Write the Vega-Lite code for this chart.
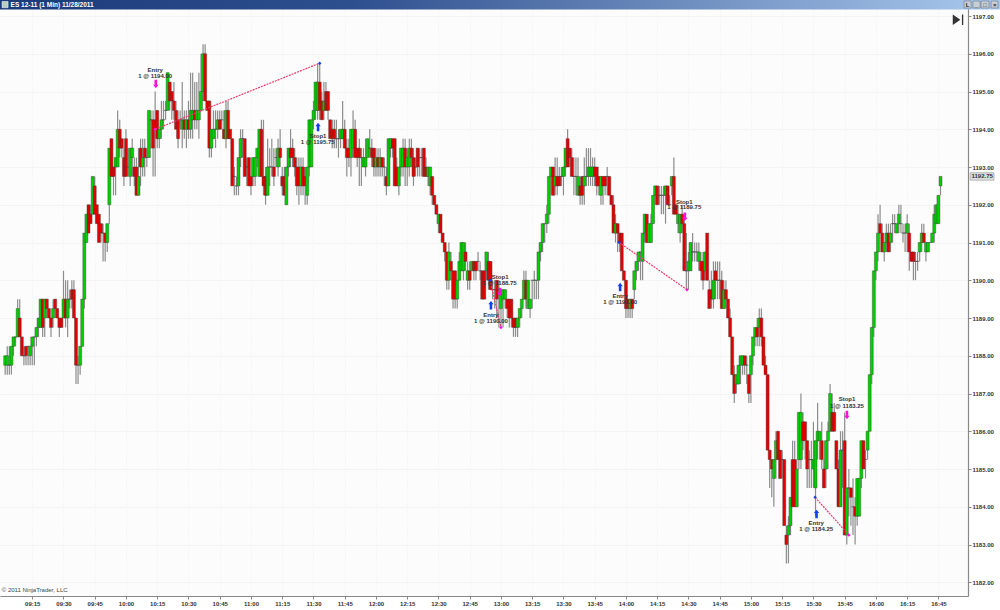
{"$schema":"https://vega.github.io/schema/vega-lite/v6.json","width":968,"height":596,"padding":0,"background":"#ffffff","view":{"fill":"#fcfcfc","stroke":null},
"datasets":{"bars":[
{"n":2,"o":1187.75,"h":1188,"l":1187.5,"c":1188},{"n":3,"o":1187.75,"h":1188.25,"l":1187.5,"c":1188},{"n":4,"o":1187.75,"h":1188.25,"l":1187.5,"c":1187.75},{"n":5,"o":1187.75,"h":1188.25,"l":1187.5,"c":1188.25},{"n":6,"o":1188.25,"h":1188.5,"l":1188,"c":1188.5},{"n":7,"o":1188.5,"h":1188.5,"l":1188.25,"c":1188.5},{"n":8,"o":1188.5,"h":1189.5,"l":1188.5,"c":1189.25},{"n":9,"o":1189,"h":1189.5,"l":1188.5,"c":1188.5},{"n":10,"o":1188.5,"h":1188.5,"l":1188,"c":1188},{"n":11,"o":1188,"h":1188.25,"l":1187.75,"c":1188},{"n":12,"o":1188.25,"h":1188.25,"l":1187.75,"c":1188},{"n":13,"o":1188.25,"h":1188.25,"l":1187.75,"c":1188.25},{"n":14,"o":1188,"h":1188.25,"l":1187.75,"c":1188.25},{"n":15,"o":1188.25,"h":1188.5,"l":1187.75,"c":1188.5},{"n":16,"o":1188.5,"h":1188.5,"l":1187.75,"c":1188.5},{"n":17,"o":1188.5,"h":1188.75,"l":1188.25,"c":1188.75},{"n":18,"o":1188.75,"h":1189,"l":1188.5,"c":1189},{"n":19,"o":1188.75,"h":1189.5,"l":1188.75,"c":1189.5},{"n":20,"o":1189.5,"h":1189.5,"l":1188.5,"c":1188.75},{"n":21,"o":1189,"h":1189.5,"l":1188.5,"c":1189.5},{"n":22,"o":1189.5,"h":1189.5,"l":1189,"c":1189.25},{"n":23,"o":1189.25,"h":1189.25,"l":1189,"c":1189},{"n":24,"o":1189,"h":1189,"l":1188.5,"c":1188.75},{"n":25,"o":1189,"h":1189.5,"l":1188.75,"c":1189.25},{"n":26,"o":1189.5,"h":1189.5,"l":1189,"c":1189.25},{"n":27,"o":1189.25,"h":1189.25,"l":1189,"c":1189},{"n":28,"o":1189,"h":1189,"l":1188.5,"c":1188.75},{"n":29,"o":1189,"h":1189,"l":1188.75,"c":1188.75},{"n":30,"o":1189,"h":1190.25,"l":1189,"c":1189.5},{"n":31,"o":1189.5,"h":1190,"l":1188.75,"c":1189},{"n":32,"o":1189,"h":1190,"l":1188.5,"c":1189.5},{"n":33,"o":1189.5,"h":1189.75,"l":1189.25,"c":1189.5},{"n":34,"o":1189.75,"h":1190,"l":1189.25,"c":1189.5},{"n":35,"o":1189.75,"h":1190,"l":1189,"c":1189},{"n":36,"o":1189,"h":1189,"l":1187.25,"c":1187.75},{"n":37,"o":1187.75,"h":1188,"l":1187.25,"c":1187.75},{"n":38,"o":1187.75,"h":1188.25,"l":1187.5,"c":1188.25},{"n":39,"o":1188.25,"h":1189.5,"l":1188.25,"c":1189.5},{"n":40,"o":1189.5,"h":1191.25,"l":1189.25,"c":1191.25},{"n":41,"o":1191,"h":1191.75,"l":1191,"c":1191.75},{"n":42,"o":1192,"h":1192,"l":1191.25,"c":1191.25},{"n":43,"o":1191.75,"h":1192,"l":1191.5,"c":1191.5},{"n":44,"o":1191.75,"h":1192.75,"l":1191.75,"c":1192.75},{"n":45,"o":1192.5,"h":1192.75,"l":1191.75,"c":1191.75},{"n":46,"o":1192,"h":1192,"l":1191.5,"c":1191.5},{"n":47,"o":1191.75,"h":1191.75,"l":1191,"c":1191},{"n":48,"o":1191.5,"h":1191.5,"l":1191,"c":1191.25},{"n":49,"o":1191.25,"h":1191.5,"l":1190.5,"c":1191.25},{"n":50,"o":1191.25,"h":1191.25,"l":1190.5,"c":1191},{"n":51,"o":1191,"h":1191.5,"l":1190.75,"c":1191.5},{"n":52,"o":1192,"h":1193.5,"l":1191.5,"c":1193.5},
{"n":53,"o":1193.75,"h":1193.75,"l":1192.75,"c":1192.75},{"n":54,"o":1193,"h":1193,"l":1192.25,"c":1192.75},{"n":55,"o":1193,"h":1193.25,"l":1192.25,"c":1193.25},{"n":56,"o":1193,"h":1194.5,"l":1193,"c":1194},{"n":57,"o":1194,"h":1194.25,"l":1193.25,"c":1193.5},{"n":58,"o":1193.75,"h":1193.75,"l":1193.25,"c":1193.5},{"n":59,"o":1193.25,"h":1193.5,"l":1192.5,"c":1192.75},{"n":60,"o":1193.75,"h":1194,"l":1192.75,"c":1192.75},{"n":61,"o":1193,"h":1193.5,"l":1192.75,"c":1193},{"n":62,"o":1192.75,"h":1193.5,"l":1192.5,"c":1193.5},{"n":63,"o":1193.25,"h":1193.75,"l":1192.75,"c":1193.5},{"n":64,"o":1193,"h":1193.25,"l":1192.5,"c":1192.75},{"n":65,"o":1193,"h":1193.25,"l":1192.25,"c":1192.25},{"n":66,"o":1192.25,"h":1193.5,"l":1192.25,"c":1192.75},{"n":67,"o":1193.5,"h":1193.75,"l":1192.5,"c":1193},{"n":68,"o":1193,"h":1193.75,"l":1192.75,"c":1193.25},{"n":69,"o":1193.5,"h":1193.75,"l":1192.75,"c":1193.25},{"n":70,"o":1193.25,"h":1193.5,"l":1193,"c":1193.25},{"n":71,"o":1193.25,"h":1194.5,"l":1193.25,"c":1194.5},{"n":72,"o":1194.25,"h":1194.5,"l":1193.5,"c":1194.25},{"n":73,"o":1194.25,"h":1194.5,"l":1192.75,"c":1193.5},{"n":74,"o":1194.25,"h":1195,"l":1192.75,"c":1194},{"n":75,"o":1194.5,"h":1194.5,"l":1193.5,"c":1193.75},{"n":76,"o":1193.75,"h":1194,"l":1193.5,"c":1194},{"n":77,"o":1194,"h":1194.75,"l":1193.75,"c":1194.25},{"n":78,"o":1194.25,"h":1194.75,"l":1194,"c":1194.25},{"n":79,"o":1194.5,"h":1194.75,"l":1194.25,"c":1194.5},{"n":80,"o":1194.5,"h":1195.5,"l":1194.5,"c":1195.5},{"n":81,"o":1195.25,"h":1195.25,"l":1194.5,"c":1194.75},{"n":82,"o":1195,"h":1195,"l":1194.25,"c":1194.75},{"n":83,"o":1194.75,"h":1195.25,"l":1194.25,"c":1194.5},{"n":84,"o":1194.5,"h":1194.75,"l":1194,"c":1194},{"n":85,"o":1194.25,"h":1194.5,"l":1193.5,"c":1193.75},{"n":86,"o":1194.25,"h":1194.5,"l":1194,"c":1194.25},{"n":87,"o":1194,"h":1195.25,"l":1193.5,"c":1194.25},{"n":88,"o":1194.25,"h":1194.5,"l":1193.75,"c":1194},{"n":89,"o":1194,"h":1194.5,"l":1193.5,"c":1194.25},{"n":90,"o":1194.25,"h":1194.75,"l":1193.75,"c":1194},{"n":91,"o":1194,"h":1195.5,"l":1193.75,"c":1194.5},{"n":92,"o":1194.25,"h":1195.5,"l":1193.75,"c":1194.5},{"n":93,"o":1194.5,"h":1195.25,"l":1194,"c":1194.25},{"n":94,"o":1194.25,"h":1195.25,"l":1194,"c":1194.5},{"n":95,"o":1194.25,"h":1195.5,"l":1193.75,"c":1194.5},{"n":96,"o":1194.5,"h":1196,"l":1194.5,"c":1195},{"n":97,"o":1195,"h":1196.25,"l":1194.75,"c":1196},{"n":98,"o":1196,"h":1196.25,"l":1194.75,"c":1194.75},{"n":99,"o":1194.75,"h":1194.75,"l":1194.5,"c":1194.5},{"n":100,"o":1194.75,"h":1194.75,"l":1193.25,"c":1193.5},{"n":101,"o":1193.5,"h":1194,"l":1193.25,"c":1194},{"n":102,"o":1193.75,"h":1194.5,"l":1193.75,"c":1194},{"n":103,"o":1194,"h":1194.5,"l":1193.5,"c":1194},{"n":104,"o":1194,"h":1194.5,"l":1193.75,"c":1194.25},{"n":105,"o":1194.25,"h":1194.5,"l":1194,"c":1194},{"n":106,"o":1194.25,"h":1194.5,"l":1194,"c":1194.25},{"n":107,"o":1194,"h":1194.5,"l":1193.75,"c":1193.75},{"n":108,"o":1193.75,"h":1194.75,"l":1193.5,"c":1194.5},{"n":109,"o":1194.5,"h":1194.75,"l":1193.75,"c":1193.75},{"n":110,"o":1194,"h":1194,"l":1193.75,"c":1193.75},{"n":111,"o":1193.75,"h":1193.75,"l":1192.5,"c":1192.5},{"n":112,"o":1192.75,"h":1193,"l":1192.25,"c":1192.75},{"n":113,"o":1192.5,"h":1192.75,"l":1192.25,"c":1192.5},{"n":114,"o":1192.5,"h":1193.25,"l":1192.25,"c":1193.25},{"n":115,"o":1193.25,"h":1194,"l":1193,"c":1193.75},{"n":116,"o":1193.75,"h":1194,"l":1193.25,"c":1193.75},{"n":117,"o":1193.75,"h":1193.75,"l":1192.75,"c":1192.75},{"n":118,"o":1193,"h":1193.25,"l":1192.5,"c":1193},{"n":119,"o":1193.25,"h":1193.25,"l":1192.5,"c":1192.5},{"n":120,"o":1192.75,"h":1192.75,"l":1192.25,"c":1192.5},{"n":121,"o":1192.75,"h":1193.25,"l":1192.5,"c":1193.25},{"n":122,"o":1192.75,"h":1193.25,"l":1192.5,"c":1193.25},{"n":123,"o":1193.25,"h":1193.5,"l":1193,"c":1193.5},{"n":124,"o":1192.75,"h":1194,"l":1192.75,"c":1194},{"n":125,"o":1194,"h":1194.25,"l":1192.75,"c":1192.75},
{"n":126,"o":1192.75,"h":1194.25,"l":1192.25,"c":1192.5},{"n":127,"o":1192.75,"h":1193,"l":1192,"c":1192.25},{"n":128,"o":1192.25,"h":1193.75,"l":1192.25,"c":1193},{"n":129,"o":1193,"h":1193.5,"l":1192.5,"c":1193},{"n":130,"o":1193,"h":1193.75,"l":1192.75,"c":1193},{"n":131,"o":1193,"h":1193.5,"l":1192.5,"c":1192.75},{"n":132,"o":1193.25,"h":1193.5,"l":1193,"c":1193.25},{"n":133,"o":1193,"h":1193.75,"l":1192.75,"c":1193.5},{"n":134,"o":1193.5,"h":1194,"l":1193,"c":1193.25},{"n":135,"o":1192.75,"h":1193,"l":1192.25,"c":1192.5},{"n":136,"o":1192.75,"h":1193,"l":1192.25,"c":1192.25},{"n":137,"o":1192,"h":1193,"l":1192,"c":1193},{"n":138,"o":1193,"h":1193.5,"l":1192.75,"c":1193.5},{"n":139,"o":1193.5,"h":1194,"l":1193,"c":1193.25},{"n":140,"o":1193.5,"h":1193.75,"l":1193,"c":1193.25},{"n":141,"o":1193.25,"h":1193.5,"l":1192.75,"c":1193},{"n":142,"o":1193,"h":1193.25,"l":1192.25,"c":1192.5},{"n":143,"o":1193,"h":1193.25,"l":1192,"c":1192.5},{"n":144,"o":1192.5,"h":1193.25,"l":1192.25,"c":1193},{"n":145,"o":1193,"h":1193.25,"l":1192.25,"c":1192.5},{"n":146,"o":1192.75,"h":1193,"l":1192,"c":1192.5},{"n":147,"o":1192.25,"h":1193,"l":1192,"c":1193},{"n":148,"o":1193,"h":1194.25,"l":1192.75,"c":1194.25},{"n":149,"o":1193,"h":1194.25,"l":1193,"c":1194.25},{"n":150,"o":1194.25,"h":1194.75,"l":1194,"c":1194.5},{"n":151,"o":1194.5,"h":1195.25,"l":1194.25,"c":1195.25},{"n":152,"o":1194.5,"h":1195.75,"l":1194.25,"c":1195.25},{"n":153,"o":1195.25,"h":1195.75,"l":1194.25,"c":1194.5},{"n":154,"o":1194.75,"h":1195,"l":1194.25,"c":1194.25},{"n":155,"o":1194.5,"h":1195.25,"l":1194.25,"c":1194.75},{"n":156,"o":1195,"h":1195.25,"l":1194.5,"c":1194.5},{"n":157,"o":1195,"h":1195,"l":1194.25,"c":1194.5},{"n":158,"o":1194.25,"h":1194.25,"l":1193.75,"c":1193.75},{"n":159,"o":1194,"h":1194.25,"l":1193.5,"c":1193.75},{"n":160,"o":1194,"h":1194.25,"l":1193.5,"c":1193.75},{"n":161,"o":1193.75,"h":1194.25,"l":1193.5,"c":1193.75},{"n":162,"o":1193.75,"h":1194,"l":1193.25,"c":1193.75},{"n":163,"o":1193.75,"h":1194,"l":1193.5,"c":1194},{"n":164,"o":1193.75,"h":1194.75,"l":1193.75,"c":1194},{"n":165,"o":1194,"h":1194.25,"l":1193.5,"c":1193.5},{"n":166,"o":1193.5,"h":1193.75,"l":1192.75,"c":1193.25},{"n":167,"o":1193.5,"h":1193.75,"l":1193,"c":1193.25},{"n":168,"o":1193.25,"h":1194,"l":1192.75,"c":1194},{"n":169,"o":1193.5,"h":1194.5,"l":1193.25,"c":1194},{"n":170,"o":1194,"h":1194.25,"l":1193.25,"c":1193.25},{"n":171,"o":1193.5,"h":1193.5,"l":1193,"c":1193.25},{"n":172,"o":1193.5,"h":1193.75,"l":1192.5,"c":1193.25},{"n":173,"o":1193.25,"h":1193.5,"l":1192.5,"c":1193.25},{"n":174,"o":1193,"h":1193.5,"l":1193,"c":1193.25},{"n":175,"o":1193,"h":1193.75,"l":1192.75,"c":1193.25},{"n":176,"o":1193.25,"h":1193.75,"l":1193.25,"c":1193.75},{"n":177,"o":1193.5,"h":1194,"l":1193.25,"c":1193.5},{"n":178,"o":1193.5,"h":1193.75,"l":1193,"c":1193.25},{"n":179,"o":1193.5,"h":1193.5,"l":1192.75,"c":1193},{"n":180,"o":1193,"h":1193.5,"l":1192.75,"c":1193.25},{"n":181,"o":1193.25,"h":1193.5,"l":1192.75,"c":1193},{"n":182,"o":1193,"h":1193.5,"l":1192.75,"c":1193.25},{"n":183,"o":1193.25,"h":1193.25,"l":1192.75,"c":1193},{"n":184,"o":1193,"h":1193.25,"l":1192.5,"c":1193},{"n":185,"o":1192.75,"h":1193,"l":1192.25,"c":1192.5},{"n":186,"o":1192.5,"h":1193.75,"l":1192.5,"c":1193.75},{"n":187,"o":1193.5,"h":1193.75,"l":1193.25,"c":1193.75},{"n":188,"o":1193.75,"h":1193.75,"l":1193.25,"c":1193.5},{"n":189,"o":1193.75,"h":1193.75,"l":1192.5,"c":1192.5},{"n":190,"o":1193,"h":1193.25,"l":1192.5,"c":1192.5},{"n":191,"o":1192.5,"h":1193,"l":1192.25,"c":1193},{"n":192,"o":1193,"h":1193.5,"l":1192.75,"c":1193.5},{"n":193,"o":1193,"h":1193.75,"l":1192.75,"c":1193.5},{"n":194,"o":1193.5,"h":1193.75,"l":1192.5,"c":1193},{"n":195,"o":1193,"h":1193.5,"l":1192.5,"c":1193.25},{"n":196,"o":1193,"h":1193.75,"l":1192.75,"c":1193.5},{"n":197,"o":1193.5,"h":1193.75,"l":1193,"c":1193.25},{"n":198,"o":1193.25,"h":1193.5,"l":1192.5,"c":1192.75},{"n":199,"o":1193,"h":1193.25,"l":1192.75,"c":1193},{"n":200,"o":1193.5,"h":1193.5,"l":1192.75,"c":1193},{"n":201,"o":1193.25,"h":1193.5,"l":1192.75,"c":1193.25},{"n":202,"o":1193.25,"h":1193.5,"l":1192.75,"c":1193.25},{"n":203,"o":1193.5,"h":1193.5,"l":1192.75,"c":1192.75},{"n":204,"o":1193,"h":1193.25,"l":1192.75,"c":1192.75},{"n":205,"o":1192.75,"h":1193,"l":1192.5,"c":1193},{"n":206,"o":1192.5,"h":1193,"l":1192.25,"c":1193},{"n":207,"o":1192.75,"h":1192.75,"l":1192,"c":1192.25},{"n":208,"o":1192.25,"h":1192.25,"l":1192,"c":1192},{"n":209,"o":1192,"h":1192,"l":1191.75,"c":1191.75},{"n":210,"o":1191.5,"h":1191.75,"l":1191.25,"c":1191.75},{"n":211,"o":1191.75,"h":1191.75,"l":1191.25,"c":1191.25},{"n":212,"o":1191.25,"h":1191.25,"l":1191,"c":1191},
{"n":213,"o":1191,"h":1191,"l":1190.5,"c":1190.75},{"n":214,"o":1190.75,"h":1190.75,"l":1189.75,"c":1190},{"n":215,"o":1190,"h":1191,"l":1189.75,"c":1190.75},{"n":216,"o":1190.5,"h":1190.75,"l":1190,"c":1190.25},{"n":217,"o":1190.25,"h":1190.25,"l":1189.25,"c":1189.5},{"n":218,"o":1190.25,"h":1190.25,"l":1189.25,"c":1189.5},{"n":219,"o":1189.5,"h":1190,"l":1189.25,"c":1190},{"n":220,"o":1190,"h":1190.75,"l":1190,"c":1190.5},{"n":221,"o":1190.25,"h":1191,"l":1190.25,"c":1191},{"n":222,"o":1190.25,"h":1191,"l":1190,"c":1191},{"n":223,"o":1190.75,"h":1191,"l":1190.25,"c":1190.5},{"n":224,"o":1190,"h":1190.5,"l":1189.75,"c":1190.25},{"n":225,"o":1190.25,"h":1190.5,"l":1189.75,"c":1190},{"n":226,"o":1190.25,"h":1190.5,"l":1190.25,"c":1190.5},{"n":227,"o":1190.5,"h":1190.5,"l":1190,"c":1190.25},{"n":228,"o":1190.5,"h":1190.5,"l":1190,"c":1190.25},{"n":229,"o":1190.5,"h":1190.75,"l":1190.25,"c":1190.5},{"n":230,"o":1190.25,"h":1190.5,"l":1190,"c":1190.25},{"n":231,"o":1190.25,"h":1190.25,"l":1189.5,"c":1189.5},{"n":232,"o":1190.25,"h":1190.25,"l":1189.5,"c":1189.5},{"n":233,"o":1190.25,"h":1190.75,"l":1190,"c":1190.75},{"n":234,"o":1190.5,"h":1190.75,"l":1189.75,"c":1190},{"n":235,"o":1190.5,"h":1190.5,"l":1189.75,"c":1189.75},{"n":236,"o":1189.75,"h":1190,"l":1189.5,"c":1189.75},{"n":237,"o":1189.75,"h":1190,"l":1189.25,"c":1189.75},{"n":238,"o":1190,"h":1190,"l":1189,"c":1189.5},{"n":239,"o":1189.75,"h":1190,"l":1188.75,"c":1189.75},{"n":240,"o":1189.25,"h":1189.75,"l":1188.75,"c":1189.75},{"n":241,"o":1189.5,"h":1189.75,"l":1188.75,"c":1189.75},{"n":242,"o":1189.5,"h":1189.75,"l":1189.25,"c":1189.75},{"n":243,"o":1189.5,"h":1189.5,"l":1189,"c":1189.25},{"n":244,"o":1189.5,"h":1189.5,"l":1188.75,"c":1189},{"n":245,"o":1189.5,"h":1189.5,"l":1188.75,"c":1189},{"n":246,"o":1189,"h":1189,"l":1188.5,"c":1188.75},{"n":247,"o":1189,"h":1189,"l":1188.5,"c":1188.75},{"n":248,"o":1188.75,"h":1189,"l":1188.5,"c":1189},{"n":249,"o":1189,"h":1189.25,"l":1188.75,"c":1189.25},{"n":250,"o":1189.25,"h":1189.5,"l":1189,"c":1189.5},{"n":251,"o":1189.5,"h":1190.25,"l":1189.5,"c":1190},{"n":252,"o":1190,"h":1190.25,"l":1189.25,"c":1189.5},{"n":253,"o":1189.25,"h":1190,"l":1189.25,"c":1190},{"n":254,"o":1189.25,"h":1189.5,"l":1189,"c":1189.5},{"n":255,"o":1190,"h":1190,"l":1189.25,"c":1190},{"n":256,"o":1190,"h":1190.25,"l":1189.5,"c":1190},{"n":257,"o":1190,"h":1190,"l":1189.5,"c":1190},{"n":258,"o":1190,"h":1190.75,"l":1189.5,"c":1190.75},{"n":259,"o":1190.75,"h":1191,"l":1190.5,"c":1191},{"n":260,"o":1191,"h":1191.5,"l":1190.75,"c":1191.5},{"n":261,"o":1191.5,"h":1191.5,"l":1191,"c":1191.5},{"n":262,"o":1191.5,"h":1192,"l":1191.25,"c":1191.75},{"n":263,"o":1191.75,"h":1192.75,"l":1191.5,"c":1192.75},{"n":264,"o":1192.75,"h":1193,"l":1192.25,"c":1193},{"n":265,"o":1193,"h":1193,"l":1192.25,"c":1192.25},{"n":266,"o":1192.5,"h":1193.25,"l":1192.25,"c":1192.75},{"n":267,"o":1192.75,"h":1193.25,"l":1192.25,"c":1192.5},{"n":268,"o":1192.75,"h":1193,"l":1192.5,"c":1192.5},{"n":269,"o":1192.75,"h":1193,"l":1192.5,"c":1192.75},{"n":270,"o":1192.75,"h":1193,"l":1192.25,"c":1193},{"n":271,"o":1193,"h":1193.5,"l":1192.75,"c":1193.5},{"n":272,"o":1193.75,"h":1194,"l":1193,"c":1193},{"n":273,"o":1193.5,"h":1193.5,"l":1193,"c":1193.25},{"n":274,"o":1193.25,"h":1193.5,"l":1192.75,"c":1192.75},{"n":275,"o":1192.75,"h":1193.25,"l":1192.25,"c":1192.75},{"n":276,"o":1192.75,"h":1193.25,"l":1192.25,"c":1192.75},{"n":277,"o":1192.25,"h":1193.25,"l":1192.25,"c":1192.75},{"n":278,"o":1192.5,"h":1192.75,"l":1192,"c":1192.25},{"n":279,"o":1192.75,"h":1192.75,"l":1192,"c":1192.25},{"n":280,"o":1192.5,"h":1193.25,"l":1192,"c":1192.75},{"n":281,"o":1192.75,"h":1193.5,"l":1192.5,"c":1192.75},{"n":282,"o":1192.75,"h":1193.5,"l":1192.5,"c":1193},{"n":283,"o":1192.75,"h":1193.5,"l":1192.5,"c":1193},{"n":284,"o":1192.75,"h":1193.25,"l":1192.5,"c":1193},{"n":285,"o":1193,"h":1193.25,"l":1192.5,"c":1192.75},{"n":286,"o":1193,"h":1193,"l":1192.25,"c":1192.5},{"n":287,"o":1192.75,"h":1192.75,"l":1192.25,"c":1192.5},{"n":288,"o":1192.25,"h":1192.75,"l":1192,"c":1192.75},{"n":289,"o":1192.75,"h":1192.75,"l":1192,"c":1192.5},{"n":290,"o":1192.75,"h":1192.75,"l":1192.25,"c":1192.5},{"n":291,"o":1192.75,"h":1193,"l":1192.25,"c":1192.75},
{"n":292,"o":1192.75,"h":1192.75,"l":1192.25,"c":1192.25},{"n":293,"o":1192.25,"h":1192.25,"l":1192,"c":1192},{"n":294,"o":1192,"h":1192.25,"l":1191.25,"c":1191.25},{"n":295,"o":1191.25,"h":1191.75,"l":1191,"c":1191.5},{"n":296,"o":1191.5,"h":1191.5,"l":1190.75,"c":1191.25},{"n":297,"o":1191.25,"h":1191.25,"l":1190.75,"c":1191},{"n":298,"o":1191.25,"h":1191.25,"l":1190.25,"c":1190.25},{"n":299,"o":1190.25,"h":1190.25,"l":1190,"c":1190},{"n":300,"o":1190,"h":1190,"l":1189,"c":1189.25},{"n":301,"o":1189.5,"h":1189.5,"l":1189,"c":1189.25},{"n":302,"o":1189.25,"h":1189.5,"l":1189,"c":1189.5},{"n":303,"o":1189.5,"h":1189.5,"l":1189,"c":1189.25},{"n":304,"o":1189.75,"h":1190.25,"l":1189.5,"c":1190.25},{"n":305,"o":1190.25,"h":1190.5,"l":1190,"c":1190.5},{"n":306,"o":1190.5,"h":1190.75,"l":1190.25,"c":1190.75},{"n":307,"o":1190.75,"h":1190.75,"l":1190,"c":1190.75},{"n":308,"o":1190.5,"h":1191.25,"l":1190,"c":1191.25},{"n":309,"o":1191.25,"h":1191.75,"l":1191,"c":1191.75},{"n":310,"o":1191.75,"h":1191.75,"l":1191,"c":1191},{"n":311,"o":1191,"h":1191.5,"l":1191,"c":1191.5},{"n":312,"o":1191,"h":1191.75,"l":1191,"c":1191.5},{"n":313,"o":1191.5,"h":1192.25,"l":1191.5,"c":1192.25},{"n":314,"o":1192.25,"h":1192.5,"l":1192,"c":1192.5},{"n":315,"o":1192.5,"h":1192.5,"l":1192,"c":1192},{"n":316,"o":1192.25,"h":1192.5,"l":1192,"c":1192.25},{"n":317,"o":1192.25,"h":1192.5,"l":1191.75,"c":1192.25},{"n":318,"o":1192.25,"h":1192.5,"l":1191.75,"c":1192.25},{"n":319,"o":1192.25,"h":1192.5,"l":1191.5,"c":1192.5},{"n":320,"o":1192.5,"h":1192.5,"l":1192,"c":1192},{"n":321,"o":1192,"h":1192.25,"l":1192,"c":1192},{"n":322,"o":1192.5,"h":1192.75,"l":1192.25,"c":1192.75},{"n":323,"o":1192.75,"h":1193.25,"l":1191.75,"c":1191.75},{"n":324,"o":1192,"h":1192,"l":1191.75,"c":1191.75},{"n":325,"o":1191.5,"h":1192,"l":1191.25,"c":1191.75},{"n":326,"o":1191.25,"h":1191.75,"l":1191,"c":1191.75},{"n":327,"o":1191.75,"h":1192,"l":1191.25,"c":1191.5},{"n":328,"o":1191.5,"h":1191.75,"l":1190.25,"c":1190.25},{"n":329,"o":1190.25,"h":1191.25,"l":1189.75,"c":1190.25},{"n":330,"o":1190.25,"h":1190.75,"l":1189.75,"c":1190.5},{"n":331,"o":1190.25,"h":1191,"l":1190.25,"c":1191},{"n":332,"o":1190.75,"h":1191.25,"l":1190.5,"c":1190.75},{"n":333,"o":1190.75,"h":1191,"l":1190.5,"c":1190.75},{"n":334,"o":1190.75,"h":1191,"l":1190.5,"c":1190.75},{"n":335,"o":1190.5,"h":1191,"l":1190.25,"c":1190.75},{"n":336,"o":1190.5,"h":1190.75,"l":1190,"c":1190.25},{"n":337,"o":1190.5,"h":1190.75,"l":1189.75,"c":1190},{"n":338,"o":1190.25,"h":1190.75,"l":1190,"c":1190.75},{"n":339,"o":1191.25,"h":1191.25,"l":1190,"c":1190},{"n":340,"o":1189.75,"h":1190,"l":1189.25,"c":1189.25},{"n":341,"o":1189.75,"h":1190.25,"l":1189.25,"c":1189.5},{"n":342,"o":1189.5,"h":1190.5,"l":1189.25,"c":1190},{"n":343,"o":1190.25,"h":1190.5,"l":1189.5,"c":1190},{"n":344,"o":1190,"h":1190.5,"l":1189.5,"c":1190},{"n":345,"o":1190,"h":1190.5,"l":1189.5,"c":1190},{"n":346,"o":1190,"h":1190.25,"l":1189.25,"c":1189.25},{"n":347,"o":1189.25,"h":1190,"l":1189.25,"c":1189.75},{"n":348,"o":1189.75,"h":1190,"l":1189.25,"c":1189.5},{"n":349,"o":1189.5,"h":1189.5,"l":1189,"c":1189},{"n":350,"o":1189,"h":1189.25,"l":1188.5,"c":1188.5},{"n":351,"o":1188.5,"h":1188.5,"l":1187.5,"c":1187.5},{"n":352,"o":1187.5,"h":1187.75,"l":1186.75,"c":1187},{"n":353,"o":1187.25,"h":1187.5,"l":1187,"c":1187.5},{"n":354,"o":1187.25,"h":1187.75,"l":1187.25,"c":1187.75},{"n":355,"o":1187.75,"h":1188,"l":1187.25,"c":1188},{"n":356,"o":1187.75,"h":1188,"l":1187.5,"c":1188},{"n":357,"o":1188,"h":1188,"l":1187.5,"c":1187.75},{"n":358,"o":1187.75,"h":1188,"l":1187.25,"c":1187.75},{"n":359,"o":1187.5,"h":1187.5,"l":1186.75,"c":1187},{"n":360,"o":1187.5,"h":1188,"l":1186.75,"c":1188},{"n":361,"o":1188,"h":1188.5,"l":1187.75,"c":1188.5},{"n":362,"o":1188.5,"h":1188.75,"l":1188.25,"c":1188.75},{"n":363,"o":1188.75,"h":1189,"l":1188.25,"c":1188.5},{"n":364,"o":1188.75,"h":1189.25,"l":1188.25,"c":1189},{"n":365,"o":1189,"h":1189.25,"l":1188.25,"c":1188.5},{"n":366,"o":1188.5,"h":1188.5,"l":1187.75,"c":1187.75},{"n":367,"o":1187.75,"h":1188,"l":1187.5,"c":1187.5},{"n":368,"o":1187.5,"h":1187.5,"l":1185.5,"c":1185.5},{"n":369,"o":1185.5,"h":1185.5,"l":1184.5,"c":1185.25},{"n":370,"o":1185.25,"h":1185.25,"l":1184.25,"c":1185},{"n":371,"o":1184.75,"h":1185.25,"l":1184,"c":1185.25},{"n":372,"o":1185.25,"h":1186,"l":1184.75,"c":1185.75},{"n":373,"o":1186,"h":1186,"l":1185.25,"c":1185.25},{"n":374,"o":1185.5,"h":1185.5,"l":1184.75,"c":1184.75},{"n":375,"o":1185.25,"h":1185.5,"l":1184.75,"c":1185.25},{"n":376,"o":1185.25,"h":1185.25,"l":1183.5,"c":1183.5},{"n":377,"o":1183.25,"h":1183.5,"l":1182.5,"c":1183},{"n":378,"o":1183.25,"h":1183.75,"l":1182.5,"c":1183.5},{"n":379,"o":1183.5,"h":1184.25,"l":1183.25,"c":1184.25},{"n":380,"o":1185.25,"h":1185.75,"l":1184,"c":1184},{"n":381,"o":1185.25,"h":1185.75,"l":1184,"c":1184},{"n":382,"o":1184,"h":1185.25,"l":1184,"c":1185},{"n":383,"o":1185.25,"h":1186.5,"l":1185,"c":1186.5},{"n":384,"o":1185.25,"h":1187,"l":1185,"c":1186.5},{"n":385,"o":1186.25,"h":1186.5,"l":1185.5,"c":1185.75},{"n":386,"o":1186.25,"h":1186.25,"l":1185.25,"c":1185.75},{"n":387,"o":1185.75,"h":1185.75,"l":1184.5,"c":1185},{"n":388,"o":1185.25,"h":1185.5,"l":1184.5,"c":1185.25},{"n":389,"o":1185.25,"h":1185.75,"l":1184.5,"c":1185.25},{"n":390,"o":1185,"h":1186.25,"l":1184.5,"c":1185.25},{"n":391,"o":1184.5,"h":1185.75,"l":1183.75,"c":1185.75},{"n":392,"o":1185.75,"h":1186.75,"l":1185.25,"c":1186},{"n":393,"o":1185.75,"h":1186,"l":1185.25,"c":1186},{"n":394,"o":1185.75,"h":1186.25,"l":1185,"c":1185.25},{"n":395,"o":1185,"h":1185.25,"l":1184.5,"c":1184.5},{"n":396,"o":1185,"h":1185.75,"l":1184.5,"c":1185.75},{"n":397,"o":1185.75,"h":1186.25,"l":1185,"c":1186},{"n":398,"o":1186,"h":1187.25,"l":1186,"c":1187},{"n":399,"o":1186.5,"h":1187,"l":1186,"c":1186},{"n":400,"o":1186.5,"h":1186.75,"l":1186,"c":1186},{"n":401,"o":1185.75,"h":1185.75,"l":1185,"c":1185},{"n":402,"o":1185,"h":1185.25,"l":1184,"c":1184},{"n":403,"o":1184,"h":1186,"l":1184,"c":1185.5},{"n":404,"o":1185.5,"h":1186,"l":1184.5,"c":1185.5},{"n":405,"o":1185.75,"h":1186.5,"l":1183.25,"c":1183.25},{"n":406,"o":1183.25,"h":1184.5,"l":1183,"c":1184.5},{"n":407,"o":1184.5,"h":1185,"l":1183.75,"c":1184.5},{"n":408,"o":1184.5,"h":1184.5,"l":1183.5,"c":1184.25},{"n":409,"o":1184,"h":1184.75,"l":1183.25,"c":1184},{"n":410,"o":1184,"h":1184.25,"l":1183,"c":1183.75},{"n":411,"o":1183.75,"h":1184.75,"l":1183.5,"c":1184.75},{"n":412,"o":1183.75,"h":1184.75,"l":1183.75,"c":1184.75},{"n":413,"o":1184.75,"h":1185.75,"l":1184.5,"c":1185.75},{"n":414,"o":1185.75,"h":1185.75,"l":1185,"c":1185},{"n":415,"o":1185.25,"h":1185.5,"l":1184.75,"c":1185.25},{"n":416,"o":1185.5,"h":1186,"l":1185.25,"c":1186},{"n":417,"o":1186,"h":1187.5,"l":1186,"c":1187.5},{"n":418,"o":1187.5,"h":1188.75,"l":1187.25,"c":1188.75},{"n":419,"o":1188.75,"h":1190.25,"l":1188.5,"c":1190.25},
{"n":420,"o":1190.25,"h":1190.75,"l":1190,"c":1190.75},{"n":421,"o":1190.75,"h":1191.75,"l":1190.5,"c":1191.25},{"n":422,"o":1191.5,"h":1192,"l":1191.25,"c":1191.25},{"n":423,"o":1191.25,"h":1191.5,"l":1190.75,"c":1190.75},{"n":424,"o":1190.75,"h":1191,"l":1190.5,"c":1191},{"n":425,"o":1191,"h":1191.5,"l":1190.75,"c":1191.25},{"n":426,"o":1191.25,"h":1191.5,"l":1190.75,"c":1190.75},{"n":427,"o":1191,"h":1191.5,"l":1190.75,"c":1191.25},{"n":428,"o":1191.5,"h":1191.75,"l":1191,"c":1191.5},{"n":429,"o":1191.5,"h":1191.75,"l":1191.25,"c":1191.5},{"n":430,"o":1191.25,"h":1191.5,"l":1191.25,"c":1191.5},{"n":431,"o":1191.5,"h":1192,"l":1191.25,"c":1191.75},{"n":432,"o":1191.5,"h":1192,"l":1191.25,"c":1191.5},{"n":433,"o":1191.25,"h":1191.5,"l":1191,"c":1191.25},{"n":434,"o":1191.25,"h":1191.5,"l":1190.75,"c":1191.25},{"n":435,"o":1191.25,"h":1191.75,"l":1190.75,"c":1191.5},{"n":436,"o":1191.25,"h":1191.5,"l":1190.25,"c":1190.75},{"n":437,"o":1190.75,"h":1190.75,"l":1190.5,"c":1190.5},{"n":438,"o":1190.75,"h":1190.75,"l":1190,"c":1190.5},{"n":439,"o":1190.5,"h":1190.75,"l":1190,"c":1190.5},{"n":440,"o":1190.5,"h":1190.75,"l":1190.25,"c":1190.5},{"n":441,"o":1190.75,"h":1191,"l":1190.5,"c":1191},{"n":442,"o":1191,"h":1191.5,"l":1190.75,"c":1191.25},{"n":443,"o":1191.25,"h":1191.5,"l":1191,"c":1191},{"n":444,"o":1190.75,"h":1191,"l":1190.5,"c":1191},{"n":445,"o":1190.75,"h":1191,"l":1190.75,"c":1191},{"n":446,"o":1191,"h":1191,"l":1191,"c":1191},{"n":447,"o":1191,"h":1191.25,"l":1191,"c":1191.25},{"n":448,"o":1191.25,"h":1192,"l":1191,"c":1191.75},{"n":449,"o":1191.5,"h":1192,"l":1191.5,"c":1192},{"n":450,"o":1191.5,"h":1192.25,"l":1191.5,"c":1192.25},{"n":451,"o":1192.5,"h":1192.75,"l":1192.25,"c":1192.75}
],
"tradeLines":[{"trade":"A","n":74,"p":1194,"side":"sell"},{"trade":"A","n":153,"p":1195.75,"side":"buy"},{"trade":"B","n":234.8,"p":1190,"side":"buy"},{"trade":"B","n":240,"p":1188.75,"side":"sell"},{"trade":"C","n":296.7,"p":1191,"side":"buy"},{"trade":"C","n":329.3,"p":1189.75,"side":"sell"},{"trade":"D","n":390.8,"p":1184.25,"side":"buy"},{"trade":"D","n":407,"p":1183.25,"side":"sell"}],
"arrows":[{"n":74.3,"p":1195.2,"side":"sell"},{"n":152.2,"p":1194.06,"side":"buy"},{"n":235.2,"p":1189.34,"side":"buy"},{"n":239.6,"p":1189.69,"side":"sell"},{"n":297.2,"p":1189.82,"side":"buy"},{"n":328.3,"p":1191.68,"side":"sell"},{"n":391.5,"p":1183.81,"side":"buy"},{"n":406.1,"p":1186.43,"side":"sell"}],
"notes":[{"n":74,"p":1195.57,"t":"Entry"},{"n":74,"p":1195.41,"t":"1 @ 1194.00"},{"n":152.2,"p":1193.82,"t":"Stop1"},{"n":152,"p":1193.66,"t":"1 @ 1195.75"},{"n":235.2,"p":1189.08,"t":"Entry"},{"n":235.2,"p":1188.92,"t":"1 @ 1190.00"},{"n":239.6,"p":1190.09,"t":"Stop1"},{"n":239.4,"p":1189.93,"t":"1 @ 1188.75"},{"n":297.2,"p":1189.58,"t":"Entry"},{"n":297.2,"p":1189.42,"t":"1 @ 1191.00"},{"n":328,"p":1192.07,"t":"Stop1"},{"n":328,"p":1191.94,"t":"1 @ 1189.75"},{"n":391.3,"p":1183.57,"t":"Entry"},{"n":391.3,"p":1183.41,"t":"1 @ 1184.25"},{"n":406.1,"p":1186.85,"t":"Stop1"},{"n":406.1,"p":1186.67,"t":"1 @ 1183.25"}],
"buttons":[{"n":462.3,"b":465.7,"p":1197.397,"m":464,"q":1197.3,"g":"L"},{"n":466.6,"b":470,"p":1197.397,"m":468.3,"q":1197.3,"g":"_"},{"n":470.5,"b":474.3,"p":1197.397,"m":472.4,"q":1197.3,"g":"□"},{"n":475.3,"b":478.6,"p":1197.397,"m":477,"q":1197.3,"g":"×"}]},
"encoding":{
"x":{"field":"n","type":"quantitative","title":null,"scale":{"domain":[-0.48,464.2],"nice":false,"zero":false,"padding":0},"axis":{"values":[15,30,45,60,75,90,105,120,135,150,165,180,195,210,225,240,255,270,285,300,315,330,345,360,375,390,405,420,435,450],"labelExpr":"['09:15','09:30','09:45','10:00','10:15','10:30','10:45','11:00','11:15','11:30','11:45','12:00','12:15','12:30','12:45','13:00','13:15','13:30','13:45','14:00','14:15','14:30','14:45','15:00','15:15','15:30','15:45','16:00','16:15','16:45'][datum.value/15-1]","labelFont":"Liberation Sans","labelFontWeight":"bold","labelFontSize":6,"labelColor":"#333333","labelPadding":1,"tickSize":3,"tickColor":"#888888","domainColor":"#888888","domainWidth":1.2,"grid":true,"gridColor":"#eeeeee","gridDash":[1,2],"labelOverlap":false}},
"y":{"field":"p","type":"quantitative","title":null,"scale":{"domain":[1181.636,1197.424],"nice":false,"zero":false},"axis":{"orient":"right","values":[1182,1183,1184,1185,1186,1187,1188,1189,1190,1191,1192,1193,1194,1195,1196,1197],"format":".2f","labelFont":"Liberation Sans","labelFontWeight":"bold","labelFontSize":6,"labelColor":"#333333","labelPadding":1,"tickSize":3,"tickColor":"#888888","domainColor":"#888888","domainWidth":1.2,"grid":true,"gridColor":"#f4f4f4","labelOverlap":false}}},
"layer":[
{"data":{"name":"bars"},"mark":{"type":"rule","color":"#8c8c8c","strokeWidth":1.2},"encoding":{"y":{"field":"l","type":"quantitative"},"y2":{"field":"h"}}},
{"data":{"name":"bars"},"mark":{"type":"bar","size":3,"stroke":"#3a3a3a","strokeWidth":0.4},"encoding":{"y":{"field":"o","type":"quantitative"},"y2":{"field":"c"},"fill":{"condition":{"test":"datum.c>datum.o","value":"#00d000"},"value":"#e40000"}}},
{"data":{"name":"tradeLines"},"mark":{"type":"line","color":"#f23a6e","strokeWidth":1.2,"strokeDash":[2,1]},"encoding":{"detail":{"field":"trade"}}},
{"data":{"name":"tradeLines"},"mark":{"type":"point","filled":true,"size":12,"opacity":1,"shape":"diamond"},"encoding":{"color":{"field":"side","type":"nominal","legend":null,"scale":{"domain":["buy","sell"],"range":["#1040f0","#ff10e0"]}}}},
{"data":{"name":"arrows"},"mark":{"type":"point","filled":true,"size":72,"opacity":1},"encoding":{"shape":{"field":"side","type":"nominal","legend":null,"scale":{"domain":["buy","sell"],"range":["M0,-1L0.62,-0.2L0.3,-0.2L0.3,1L-0.3,1L-0.3,-0.2L-0.62,-0.2Z","M0,1L0.62,0.2L0.3,0.2L0.3,-1L-0.3,-1L-0.3,0.2L-0.62,0.2Z"]}},"color":{"field":"side","type":"nominal","legend":null,"scale":{"domain":["buy","sell"],"range":["#1040f0","#ff10e0"]}}}},
{"data":{"name":"notes"},"mark":{"type":"text","font":"Liberation Sans","fontSize":6,"fontWeight":"bold","color":"#333333","baseline":"middle"},"encoding":{"text":{"field":"t"}}},
{"data":{"values":[{"n":-0.48,"p":1197.424}]},"mark":{"type":"rect","color":{"gradient":"linear","x1":0,"y1":0,"x2":1,"y2":0,"stops":[{"offset":0,"color":"#1b3a7a"},{"offset":0.35,"color":"#2e4f8e"},{"offset":1,"color":"#aac9ee"}]}},"encoding":{"x2":{"datum":479.6},"y2":{"datum":1197.17}}},
{"data":{"values":[{"n":0.5,"p":1197.385}]},"mark":{"type":"rect","color":"#b8cfc0","stroke":"#ffffff","strokeWidth":0.5},"encoding":{"x2":{"datum":3.4},"y2":{"datum":1197.22}}},
{"data":{"values":[{"n":4.6,"p":1197.3}]},"mark":{"type":"text","text":"ES 12-11 (1 Min)  11/28/2011","font":"Liberation Sans","fontSize":6.5,"fontWeight":"bold","color":"#ffffff","align":"left","baseline":"middle"}},
{"data":{"name":"buttons"},"mark":{"type":"rect","color":"#c8ced6","stroke":"#5a6470","strokeWidth":0.5},"encoding":{"x2":{"field":"b"},"y2":{"datum":1197.212}}},
{"data":{"name":"buttons"},"mark":{"type":"text","font":"Liberation Sans","fontSize":6,"fontWeight":"bold","color":"#222222","baseline":"middle"},"encoding":{"x":{"field":"m","type":"quantitative"},"y":{"field":"q","type":"quantitative"},"text":{"field":"g"}}},
{"data":{"values":[{"n":459.4,"p":1196.9}]},"mark":{"type":"point","filled":true,"opacity":1,"size":110,"color":"#333333","shape":"M-1,-1L0.45,0L-1,1ZM0.75,-1L1,-1L1,1L0.75,1Z"}},
{"data":{"values":[{"n":0.4,"p":1181.8}]},"mark":{"type":"text","text":"© 2011 NinjaTrader, LLC","font":"Liberation Sans","fontSize":6,"color":"#444444","align":"left","baseline":"middle"}},
{"data":{"values":[{"n":465.2,"p":1192.85}]},"mark":{"type":"rect","color":"#dddddd","stroke":"#999999","strokeWidth":0.6},"encoding":{"x2":{"datum":476.7},"y2":{"datum":1192.65}}},
{"data":{"values":[{"n":471,"p":1192.75}]},"mark":{"type":"text","text":"1192.75","font":"Liberation Sans","fontSize":6,"fontWeight":"bold","color":"#333333","baseline":"middle"}}
]}
